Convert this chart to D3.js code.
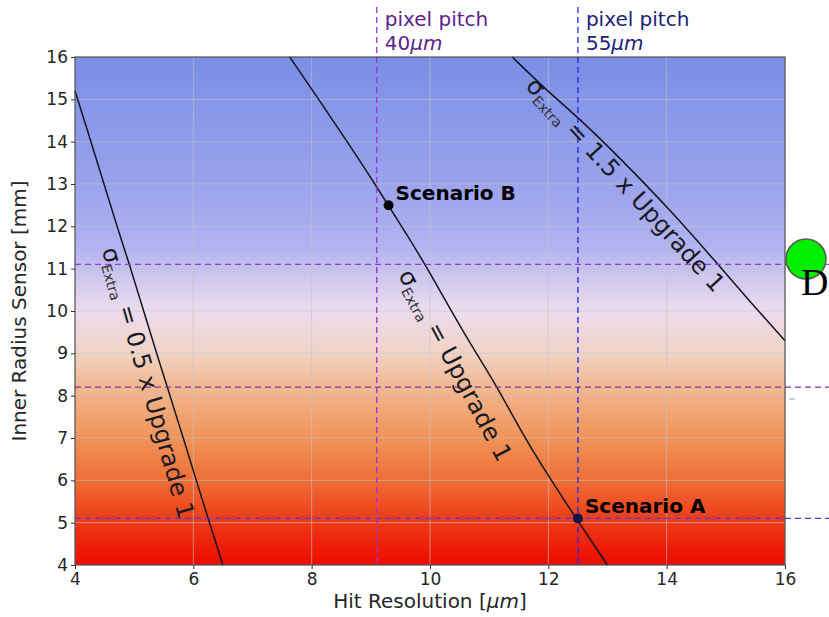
<!DOCTYPE html>
<html>
<head>
<meta charset="utf-8">
<script src="https://cdn.jsdelivr.net/npm/d3@7"></script>
<style>
  body { margin: 0; background: #fff; }
  svg { display: block; font-family: "DejaVu Sans", sans-serif; }
</style>
</head>
<body>
<svg id="chart" width="829" height="617"></svg>
<script>
// Axis ticks
const xTicks = [4, 6, 8, 10, 12, 14, 16];
const yTicks = [4, 5, 6, 7, 8, 9, 10, 11, 12, 13, 14, 15, 16];

// Iso-curves of sigma_extra as [hit resolution, radius]
const curveHalf = [[4.0, 15.2], [4.27, 14], [4.49, 13], [4.71, 12], [4.92, 11.1], [5.16, 10],
  [5.38, 9], [5.56, 8.2], [5.83, 7], [6.05, 6], [6.25, 5.1], [6.5, 4]];
const curveUpgrade = [[7.63, 16], [8.12, 15], [8.6, 14], [9.07, 13], [9.52, 12],
  [9.92, 11.1], [10.36, 10], [10.78, 9], [11.14, 8.2], [11.6, 7], [12.05, 6], [12.47, 5.1], [13.0, 4]];
const curveOneHalf = [[11.39, 16], [11.98, 15.2], [12.5, 14.58], [13.22, 13.6], [14.05, 12.4],
  [14.87, 11.1], [15.42, 10.2], [16.0, 9.3]];

const scenarios = [
  { name: "Scenario A", x: 12.5, y: 5.1 },
  { name: "Scenario B", x: 9.3, y: 12.5 }
];

// Pixel pitch markers (vertical) and radius markers (horizontal)
const pitchValues = [9.1, 12.5];
const pitchLabels = ["40", "55"];
const radiusLines = [11.1, 8.2, 5.1];

// Background colour map, by radius
const bgStops = [16, 13, 11.5, 10.5, 10, 9, 8.2, 7, 6, 5, 4];
const bgColors = ["#7a8ee6", "#9aa3ec", "#b2b3f0", "#dacfee", "#ecdcee", "#f1d3c6",
  "#f2b78f", "#f09459", "#ee6e36", "#ee3815", "#ee0a00"];

const margin = { top: 57, right: 44, bottom: 52, left: 75 };
const W = 829, H = 617;
const svg = d3.select("#chart");

const x = d3.scaleLinear().domain([4, 16]).range([margin.left, W - margin.right]);
const y = d3.scaleLinear().domain([4, 16]).range([H - margin.bottom, margin.top]);

// gradient background
const grad = svg.append("defs").append("linearGradient")
  .attr("id", "bg").attr("gradientUnits", "userSpaceOnUse")
  .attr("x1", 0).attr("x2", 0).attr("y1", y(16)).attr("y2", y(4));
grad.selectAll("stop").data(bgStops).join("stop")
  .attr("offset", d => (16 - d) / 12)
  .attr("stop-color", (d, i) => bgColors[i]);

svg.append("rect")
  .attr("x", x(4)).attr("y", y(16))
  .attr("width", x(16) - x(4)).attr("height", y(4) - y(16))
  .attr("fill", "url(#bg)");

// grid
const grid = svg.append("g").attr("stroke", "#c4c4c4").attr("stroke-opacity", 0.6).attr("stroke-width", 1);
grid.selectAll(".gx").data(xTicks).join("line")
  .attr("x1", d => x(d)).attr("x2", d => x(d)).attr("y1", y(4)).attr("y2", y(16));
grid.selectAll(".gy").data(yTicks).join("line")
  .attr("y1", d => y(d)).attr("y2", d => y(d)).attr("x1", x(4)).attr("x2", x(16));

// curves
const line = d3.line().x(d => x(d[0])).y(d => y(d[1])).curve(d3.curveBasis);
[curveHalf, curveUpgrade, curveOneHalf].forEach(c => {
  svg.append("path").datum(c).attr("d", line)
    .attr("fill", "none").attr("stroke", "#14141e").attr("stroke-width", 1.5);
});

// dashed markers
const hColors = ["#9338e0", "#7a35b0", "#4a3ae6"];
radiusLines.forEach((r, i) => {
  svg.append("line")
    .attr("x1", x(4)).attr("x2", W).attr("y1", y(r)).attr("y2", y(r))
    .attr("stroke", hColors[i]).attr("stroke-width", 1.3).attr("stroke-dasharray", "6,4");
});
const vColors = ["#9a32d4", "#2424e8"];
const vText = ["#5c2290", "#20227a"];
pitchValues.forEach((p, i) => {
  svg.append("line")
    .attr("x1", x(p)).attr("x2", x(p)).attr("y1", 7).attr("y2", y(4))
    .attr("stroke", vColors[i]).attr("stroke-width", 1.3).attr("stroke-dasharray", "6,4");
  const t = svg.append("text").attr("fill", vText[i]).attr("font-size", 20);
  t.append("tspan").attr("x", x(p) + 8).attr("y", 26).text("pixel pitch");
  const t2 = t.append("tspan").attr("x", x(p) + 8).attr("y", 50);
  t2.append("tspan").text(pitchLabels[i]);
  t2.append("tspan").attr("font-style", "italic").text("μm");
});

// frame
svg.append("rect")
  .attr("x", x(4)).attr("y", y(16))
  .attr("width", x(16) - x(4)).attr("height", y(4) - y(16))
  .attr("fill", "none").attr("stroke", "#3a3a3a").attr("stroke-width", 1);

// curve labels
const curveLabels = [
  { at: [4.45, 11.44], angle: 74, rest: " = 0.5 x Upgrade 1" },
  { at: [9.46, 10.85], angle: 62, rest: " = Upgrade 1" },
  { at: [11.6, 15.3], angle: 47.5, rest: " = 1.5 x Upgrade 1" }
];
curveLabels.forEach(l => {
  const t = svg.append("text")
    .attr("transform", `translate(${x(l.at[0])},${y(l.at[1])}) rotate(${l.angle})`)
    .attr("fill", "#1a1a24");
  t.append("tspan").attr("font-size", 24).text("σ");
  t.append("tspan").attr("font-size", 14).attr("dy", 5).attr("fill", "#333").text("Extra");
  t.append("tspan").attr("font-size", 24).attr("dy", -5).text(l.rest);
});

// scenario points
scenarios.forEach((s, i) => {
  svg.append("circle").attr("cx", x(s.x)).attr("cy", y(s.y)).attr("r", 5)
    .attr("fill", i === 0 ? "#10124a" : "#000");
  svg.append("text").attr("x", x(s.x) + 7).attr("y", y(s.y) - 5)
    .attr("font-size", 20).attr("font-weight", "bold").attr("fill", "#000").text(s.name);
});

// axes
const ax = svg.append("g").attr("transform", `translate(0,${y(4)})`)
  .call(d3.axisBottom(x).tickValues(xTicks).tickSize(4).tickPadding(4));
const ay = svg.append("g").attr("transform", `translate(${x(4)},0)`)
  .call(d3.axisLeft(y).tickValues(yTicks).tickSize(4).tickPadding(3));
[ax, ay].forEach(g => {
  g.select(".domain").remove();
  g.selectAll("text").attr("font-size", 17).attr("fill", "#262626")
    .attr("font-family", "DejaVu Sans");
  g.selectAll("line").attr("stroke", "#333");
});

const xl = svg.append("text").attr("x", 430).attr("y", 608).attr("text-anchor", "middle")
  .attr("font-size", 20).attr("fill", "#262626");
xl.append("tspan").text("Hit Resolution [");
xl.append("tspan").attr("font-style", "italic").text("μm");
xl.append("tspan").text("]");

svg.append("text").attr("transform", `translate(26,${(y(4) + y(16)) / 2}) rotate(-90)`)
  .attr("text-anchor", "middle").attr("font-size", 20).attr("fill", "#262626")
  .text("Inner Radius Sensor [mm]");

// stray marker at right edge
svg.append("circle").attr("cx", 806).attr("cy", 259).attr("r", 20)
  .attr("fill", "#00ee00").attr("stroke", "#5a5a5a").attr("stroke-width", 1.5);
svg.append("text").attr("x", 801).attr("y", 295).attr("font-family", "Liberation Serif")
  .attr("font-size", 38).attr("fill", "#000").text("D");
svg.append("line").attr("x1", 789).attr("x2", 795).attr("y1", 399).attr("y2", 399)
  .attr("stroke", "#999").attr("stroke-width", 1);
</script>
</body>
</html>
